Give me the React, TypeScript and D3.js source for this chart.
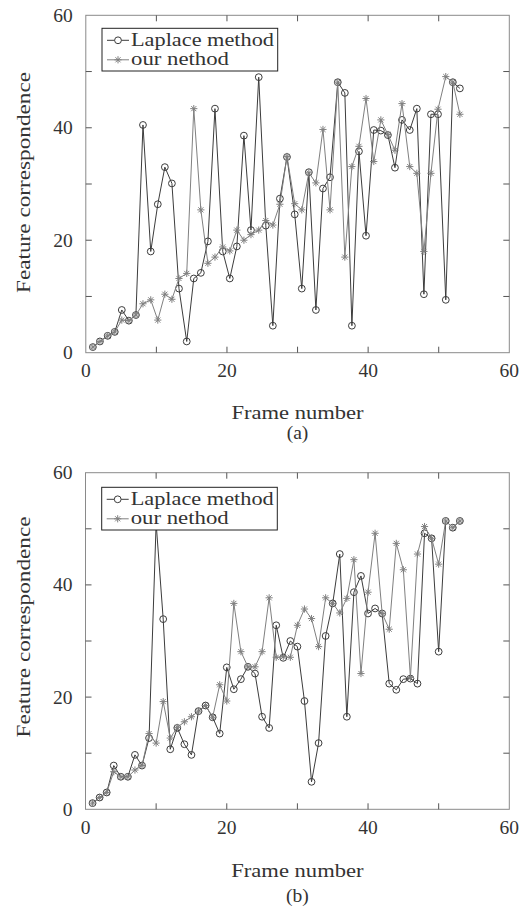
import React from "react";
import * as d3 from "d3";

// ---------- data ----------
const framesA = [1.0,2.0,3.1,4.1,5.1,6.1,7.1,8.1,9.2,10.2,11.2,12.2,13.2,14.3,15.3,16.3,17.3,18.3,19.4,20.4,21.4,22.4,23.4,24.5,25.5,26.5,27.5,28.5,29.6,30.6,31.6,32.6,33.6,34.6,35.7,36.7,37.7,38.7,39.7,40.8,41.8,42.8,43.8,44.8,45.9,46.9,47.9,48.9,49.9,51.0,52.0,53.0];
const laplaceA = [1.0,2.0,3.0,3.7,7.6,5.7,6.7,40.5,18.0,26.4,33.0,30.1,11.4,2.0,13.2,14.2,19.8,43.4,18.0,13.2,18.9,38.6,21.8,49.0,22.6,4.8,27.4,34.8,24.6,11.4,32.1,7.6,29.2,31.2,48.1,46.2,4.8,35.8,20.8,39.6,39.5,38.7,32.9,41.4,39.6,43.4,10.4,42.4,42.4,9.4,48.1,47.0];
const oursA = [1.0,2.0,3.0,3.7,5.8,5.7,6.7,8.7,9.4,5.8,10.4,9.5,13.2,14.1,43.4,25.4,15.9,17.0,18.8,18.1,21.8,20.0,21.0,21.8,23.5,22.7,26.4,34.9,26.5,25.4,32.0,30.2,39.7,25.4,48.1,17.0,33.1,36.7,45.2,34.0,41.4,38.8,36.0,44.3,33.1,31.9,18.0,31.9,43.3,49.1,48.1,42.4];

const framesB = [1,2,3,4,5,6,7,8,9,10,11,12,13,14,15,16,17,18,19,20,21,22,23,24,25,26,27,28,29,30,31,32,33,34,35,36,37,38,39,40,41,42,43,44,45,46,47,48,49,50,51,52,53];
const laplaceB = [1.1,2.1,3.0,7.8,5.8,5.8,9.7,7.8,12.7,51.0,33.9,10.7,14.5,11.6,9.7,17.5,18.5,16.4,13.5,25.3,21.4,23.2,25.4,24.2,16.5,14.5,32.8,27.0,30.0,29.0,19.3,4.9,11.8,30.9,36.7,45.5,16.5,38.7,41.6,34.9,35.8,34.9,22.4,21.3,23.2,23.3,22.4,49.2,48.3,28.1,51.4,50.2,51.4];
const oursB = [1.1,2.1,3.0,6.7,5.8,5.8,7.0,7.8,13.5,11.8,19.2,12.7,14.6,15.6,16.5,17.5,18.5,16.4,22.2,19.3,36.7,28.1,25.4,25.4,28.1,37.7,27.1,27.2,27.1,32.8,35.7,34.0,29.0,37.7,36.7,35.0,37.6,44.5,24.2,38.7,49.2,34.9,32.1,47.4,42.7,23.5,45.5,50.4,48.3,43.7,51.4,50.2,51.4];

const tickValues = [0, 10, 20, 30, 40, 50, 60];
const tickLabels = ["0", "", "20", "", "40", "", "60"];
const seriesNames = ["Laplace method", "our nethod"];
const xTitle = "Frame number";
const yTitle = "Feature correspondence";

// ---------- style ----------
const FONT = "'Liberation Serif', 'DejaVu Serif', serif";
const FS = 19.5;
const FSL = 18;
const TXT = "#333";
const AXIS = "#8a8a8a";
const C_LAP = "#3c3c3c";
const C_OUR = "#808080";
const R = 3.4;
const S = 3.6;

function starPath(cx: number, cy: number, s: number) {
  const d = s * 0.7071;
  return `M${cx - s},${cy}L${cx + s},${cy}M${cx},${cy - s}L${cx},${cy + s}` +
    `M${cx - d},${cy - d}L${cx + d},${cy + d}M${cx - d},${cy + d}L${cx + d},${cy - d}`;
}

type Layout = {
  left: number; right: number; top: number; bottom: number;
  lg: [number, number, number, number];
  xTitleY: number; capY: number; cap: string;
  yTitleX: number; yTitleY: number;
};

function Panel({ frames, lap, ours, L }: { frames: number[]; lap: number[]; ours: number[]; L: Layout }) {
  const x = d3.scaleLinear().domain([0, 60]).range([L.left, L.right]);
  const y = d3.scaleLinear().domain([0, 60]).range([L.bottom, L.top]);
  const line = d3.line<number>().x((_, i) => x(frames[i])).y((d) => y(d));
  const tk = 6;
  const [lx0, ly0, lx1, ly1] = L.lg;
  const row1 = ly0 + 12;
  const row2 = ly0 + 31.5;
  const sx0 = lx0 + 5, sx1 = lx0 + 27, sxm = (sx0 + sx1) / 2;
  const titleLen = (L.right - L.left);
  return (
    <g>
      <rect x={L.left} y={L.top} width={L.right - L.left} height={L.bottom - L.top} fill="white" stroke={AXIS} strokeWidth={1} />
      {tickValues.map((t, i) => (
        <g key={"t" + i}>
          {t > 0 && t < 60 && (
            <>
              <line x1={x(t)} x2={x(t)} y1={L.bottom} y2={L.bottom - tk} stroke="#555" />
              <line x1={x(t)} x2={x(t)} y1={L.top} y2={L.top + tk} stroke="#555" />
              <line x1={L.left} x2={L.left + tk} y1={y(t)} y2={y(t)} stroke="#555" />
              <line x1={L.right} x2={L.right - tk} y1={y(t)} y2={y(t)} stroke="#555" />
            </>
          )}
          <text x={x(t)} y={L.bottom + 24.5} textAnchor="middle" fontFamily={FONT} fontSize={FS} fill={TXT}>{tickLabels[i]}</text>
          <text x={L.left - 13} y={y(t) + 6.5} textAnchor="end" fontFamily={FONT} fontSize={FS} fill={TXT}>{tickLabels[i]}</text>
        </g>
      ))}
      <path d={line(lap) || ""} fill="none" stroke={C_LAP} strokeWidth={1} />
      {lap.map((v, i) => (
        <circle key={"c" + i} cx={x(frames[i])} cy={y(v)} r={R} fill="none" stroke={C_LAP} strokeWidth={1} />
      ))}
      <path d={line(ours) || ""} fill="none" stroke={C_OUR} strokeWidth={1} />
      {ours.map((v, i) => (
        <path key={"s" + i} d={starPath(x(frames[i]), y(v), S)} stroke={C_OUR} strokeWidth={1} fill="none" />
      ))}
      <rect x={lx0} y={ly0} width={lx1 - lx0} height={ly1 - ly0} fill="white" stroke="#222" strokeWidth={1} />
      <line x1={sx0} x2={sx1} y1={row1} y2={row1} stroke={C_LAP} />
      <circle cx={sxm} cy={row1} r={R} fill="white" stroke={C_LAP} />
      <text x={lx0 + 29} y={row1 + 5.5} fontFamily={FONT} fontSize={FSL} fill={TXT} textLength={143} lengthAdjust="spacingAndGlyphs">{seriesNames[0]}</text>
      <line x1={sx0} x2={sx1} y1={row2} y2={row2} stroke={C_OUR} />
      <path d={starPath(sxm, row2, S)} stroke={C_OUR} fill="none" />
      <text x={lx0 + 29} y={row2 + 5.5} fontFamily={FONT} fontSize={FSL} fill={TXT} textLength={98} lengthAdjust="spacingAndGlyphs">{seriesNames[1]}</text>
      <text x={(L.left + L.right) / 2} y={L.xTitleY} textAnchor="middle" fontFamily={FONT} fontSize={FS} fill={TXT} textLength={titleLen * 0.312} lengthAdjust="spacingAndGlyphs">{xTitle}</text>
      <text x={(L.left + L.right) / 2} y={L.capY} textAnchor="middle" fontFamily={FONT} fontSize={FS} fill={TXT}>{L.cap}</text>
      <text transform={`translate(${L.yTitleX},${L.yTitleY}) rotate(-90)`} textAnchor="middle" fontFamily={FONT} fontSize={FS} fill={TXT} textLength={221} lengthAdjust="spacingAndGlyphs">{yTitle}</text>
    </g>
  );
}

const layoutA: Layout = {
  left: 85.8, right: 509.3, top: 15.3, bottom: 352.7,
  lg: [102, 28.3, 277.7, 71],
  xTitleY: 418.5, capY: 438.5, cap: "(a)",
  yTitleX: 30, yTitleY: 182.5,
};
const layoutB: Layout = {
  left: 85.5, right: 509.3, top: 472.7, bottom: 809.3,
  lg: [101.7, 487.3, 277.3, 530],
  xTitleY: 876.5, capY: 901.5, cap: "(b)",
  yTitleX: 30, yTitleY: 627,
};

export default function App() {
  return (
    <svg width={529} height={907} style={{ position: "absolute", left: 0, top: 0, background: "white" }}>
      <rect x={0} y={0} width={529} height={907} fill="white" />
      <Panel frames={framesA} lap={laplaceA} ours={oursA} L={layoutA} />
      <Panel frames={framesB} lap={laplaceB} ours={oursB} L={layoutB} />
    </svg>
  );
}
